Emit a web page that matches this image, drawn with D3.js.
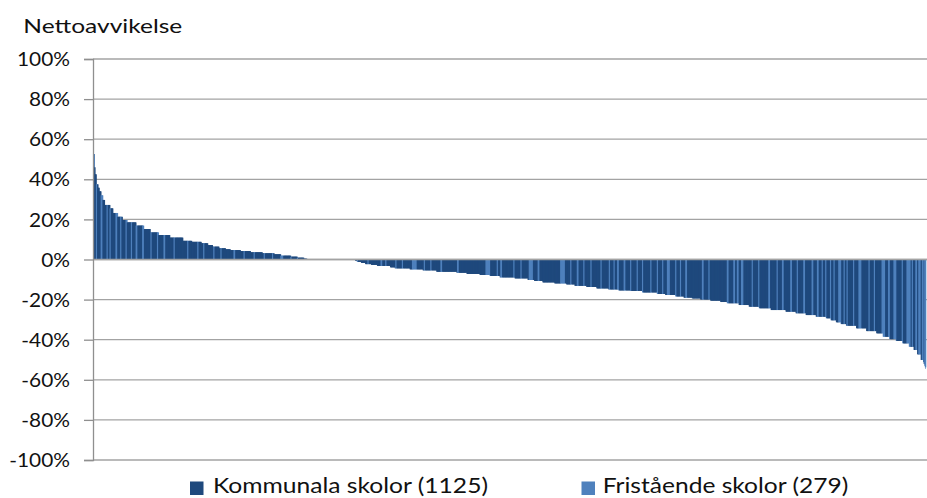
<!DOCTYPE html>
<html><head><meta charset="utf-8">
<script src="https://cdn.jsdelivr.net/npm/d3@7"></script>
<style>
body{margin:0;background:#fff}
svg{display:block}
text{font-family:Lato,"Open Sans",sans-serif;fill:#111}
</style>
</head><body>
<svg id="chart" width="927" height="498"></svg>
<script>
// ---- data ----
const title = "Nettoavvikelse";
const seriesNames = ["Kommunala skolor (1125)", "Fristående skolor (279)"];
const seriesColors = ["#1F497D", "#4F81BD"];
const yTicks = [1, 0.8, 0.6, 0.4, 0.2, 0, -0.2, -0.4, -0.6, -0.8, -1];
const yTickLabels = ["100%", "80%", "60%", "40%", "20%", "0%", "-20%", "-40%", "-60%", "-80%", "-100%"];

// sorted net deviation (percent) of each school, run-length: value level and number of schools at it
const levels = [52.6, 46, 42.5, 37.5, 35.8, 34, 32, 29.7, 27.2, 25.5,
  23.2, 21.3, 19.7, 18.5, 16.9, 15.2, 13.5, 12.2, 10.9, 9.3,
  8.8, 8.1, 7.2, 6.4, 5.6, 5.1, 4.7, 4.2, 3.6, 3.1,
  2.6, 1.9, 1.4, 0.9, 0.4, 0,
  -0.6, -1.2, -1.7, -2.3,
  -2.7, -3.2, -3.9, -4.4, -4.9, -5.4, -6.1, -6.6, -7.2, -7.7,
  -8.2, -8.9, -9.4, -10.2, -10.7, -11.4, -11.9, -12.4, -13.1, -13.7,
  -14.4, -14.9, -15.4, -15.7, -16.4, -17.2, -17.7, -18.4, -19.0, -19.4,
  -19.9, -20.5, -21.2, -21.8, -22.7, -23.5, -24.3, -25.2, -26.0, -26.8,
  -27.7, -28.5, -29.3, -30.3, -31.3, -32.2, -33.0, -34.3, -35.7, -36.8,
  -38.5, -39.7, -40.6, -41.8, -43.5, -45.1, -47.3, -50.1, -51.2, -52.1,
  -53.0, -53.8, -54.6];
const counts = [1, 1, 2, 3, 2, 3, 3, 3, 9, 5,
  8, 8, 8, 15, 13, 11, 14, 19, 22, 15,
  16, 11, 8, 11, 11, 8, 17, 17, 20, 20,
  11, 17, 11, 11, 5, 82,
  3, 7, 7, 10,
  10, 22, 8, 25, 22, 23, 34, 17, 22, 17,
  17, 25, 22, 11, 14, 20, 20, 14, 20, 17,
  20, 17, 20, 20, 25, 14, 17, 14, 14, 14,
  17, 17, 11, 20, 17, 17, 20, 25, 17, 17,
  17, 17, 8, 9, 8, 9, 17, 17, 17, 11,
  11, 11, 11, 11, 8, 6, 6, 4, 1, 1,
  1, 1, 1];

// groups of fristående schools in the sorted order: first rank and number of schools
const friStart = [0, 4, 12, 22, 27, 37, 45, 54, 63, 71, 82, 96, 107, 118, 135, 158, 175, 185, 202, 214, 236, 253, 270, 287, 301, 315, 332, 343,
  444, 462, 484, 492, 509, 520, 537, 557, 568, 585, 613, 661, 680, 686, 708, 720, 734, 749, 787, 804, 815, 826, 838, 855, 869, 877, 883, 894,
  905, 916, 925, 939, 950, 959, 967, 981, 989, 998, 1026, 1037, 1068, 1079, 1085, 1092, 1110, 1121, 1138, 1152, 1161, 1175, 1186, 1197,
  1211, 1220, 1228, 1234, 1242, 1248, 1256, 1265, 1270, 1281, 1290, 1307, 1316, 1329, 1340, 1349, 1363, 1371, 1380, 1386, 1391, 1397, 1401];
const friLen = [1, 2, 3, 2, 2, 3, 2, 2, 2, 3, 3, 2, 2, 3, 2, 2, 2, 2, 2, 2, 3, 2, 2, 2, 2, 5, 2, 2,
  2, 2, 3, 2, 2, 2, 8, 2, 2, 3, 3, 8, 2, 3, 2, 2, 7, 3, 8, 2, 3, 2, 2, 2, 2, 2, 3, 3,
  2, 2, 2, 2, 2, 2, 5, 2, 2, 3, 3, 2, 3, 3, 3, 4, 2, 2, 3, 2, 3, 3, 2, 3,
  3, 3, 2, 2, 2, 2, 5, 2, 2, 2, 5, 2, 2, 6, 3, 5, 2, 7, 2, 3, 4, 3, 3];

// ---- build bar records ----
const values = [];
levels.forEach((v, i) => { for (let k = 0; k < counts[i]; k++) values.push(v / 100); });
const fri = values.map(() => 0);
friStart.forEach((s, i) => { for (let k = 0; k < friLen[i]; k++) if (s + k < fri.length) fri[s + k] = 1; });
const bars = values.map((v, i) => ({ i, v, s: fri[i] }));

// ---- layout ----
const svg = d3.select("#chart");
const plotL = 93, plotR = 927;
const x = d3.scaleBand().domain(d3.range(bars.length)).range([93.5, 926]).padding(0);
const y = d3.scaleLinear().domain([-1, 1]).range([460, 59]);
const gridColor = "#a3a3a3";

// gridlines
svg.append("g").selectAll("line").data(yTicks).join("line")
  .attr("x1", plotL).attr("x2", plotR)
  .attr("y1", d => y(d)).attr("y2", d => y(d))
  .attr("stroke", gridColor).attr("stroke-width", 1.3);

// bars (slightly widened so neighbouring sub-pixel bars leave no seams)
const bw = x.bandwidth();
svg.append("g").selectAll("rect").data(bars).join("rect")
  .attr("x", d => x(d.i))
  .attr("width", d => d.i === bars.length - 1 ? bw : bw + 0.9)
  .attr("y", d => Math.min(y(d.v), y(0)))
  .attr("height", d => Math.abs(y(d.v) - y(0)))
  .attr("fill", d => seriesColors[d.s]);

// zero line on top
svg.append("line").attr("x1", plotL).attr("x2", plotR).attr("y1", y(0)).attr("y2", y(0))
  .attr("stroke", gridColor).attr("stroke-width", 1.3);

// y axis
const yAxis = d3.axisLeft(y).tickValues(yTicks).tickSize(9).tickPadding(14)
  .tickFormat((d, i) => yTickLabels[i]);
const ag = svg.append("g").attr("transform", `translate(${plotL},0)`).call(yAxis);
ag.select(".domain").attr("stroke", "#8f8f8f").attr("stroke-width", 1.3);
ag.selectAll(".tick line").attr("stroke", "#8f8f8f").attr("stroke-width", 1.3);
ag.selectAll(".tick text").attr("font-family", "Lato").attr("font-size", 18.5).attr("fill", "#111")
  .attr("dy", null).attr("y", 6.6);

function stretchGroup(sel, refNode, target) {
  const k = target / refNode.getComputedTextLength();
  sel.each(function () {
    const w = this.getComputedTextLength();
    d3.select(this).attr("textLength", w * k).attr("lengthAdjust", "spacingAndGlyphs");
  });
}
const tickTexts = ag.selectAll(".tick text");
stretchGroup(tickTexts, tickTexts.nodes()[0], 53);

// title
const t = svg.append("text").attr("x", 23.3).attr("y", 32.7).attr("font-size", 19).text(title);
stretchGroup(t, t.node(), 159);

// legend
const legX = [190, 581.5], legTextX = [213, 602.7], legW = [275, 245.6];
const lg = svg.append("g");
seriesNames.forEach((name, i) => {
  lg.append("rect").attr("x", legX[i]).attr("y", 481.5).attr("width", 13.5).attr("height", 13.5).attr("fill", seriesColors[i]);
  const tx = lg.append("text").attr("x", legTextX[i]).attr("y", 493).attr("font-size", 22).text(name);
  stretchGroup(tx, tx.node(), legW[i]);
});
</script>
</body></html>
